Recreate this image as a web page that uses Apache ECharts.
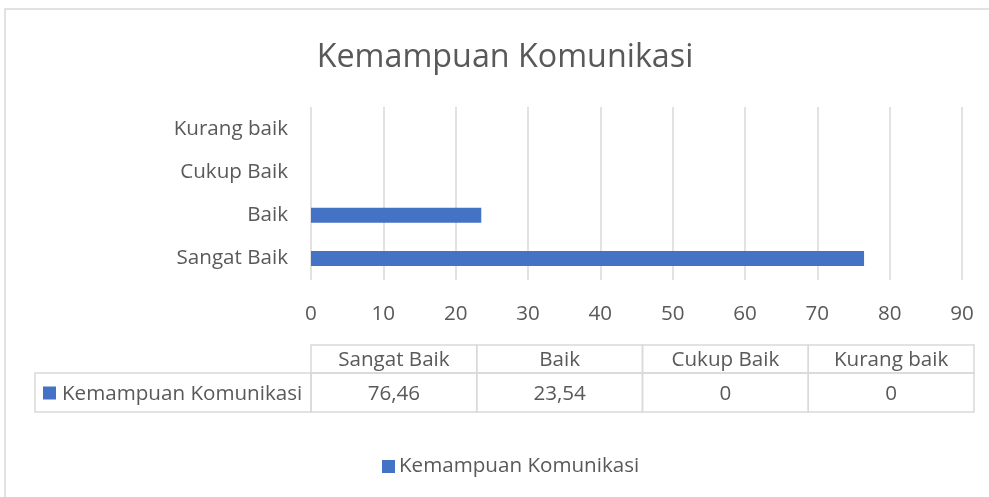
<!DOCTYPE html>
<html>
<head>
<meta charset="utf-8">
<script src="https://cdn.jsdelivr.net/npm/echarts@6/dist/echarts.min.js"></script>
<style>
html,body{margin:0;padding:0;background:#fff;}
#c{width:989px;height:497px;}
</style>
</head>
<body>
<div id="c"></div>
<script>
var chartTitle = 'Kemampuan Komunikasi';
var seriesName = 'Kemampuan Komunikasi';
var categories = ['Sangat Baik', 'Baik', 'Cukup Baik', 'Kurang baik'];
var values = [76.46, 23.54, 0, 0];
var xTicks = [0, 10, 20, 30, 40, 50, 60, 70, 80, 90];

var FONT = '"Open Sans", sans-serif';
var FS = 20.6;
var TXT = '#595959';
var BORDER = '#d9d9d9';
var BAR = '#4472C4';

var chart = echarts.init(document.getElementById('c'));

// data table layout
var tblLeft = 311, tblRight = 974, labelLeft = 35;
var hdrTop = 345, hdrBot = 373, rowBot = 412;
var colW = (tblRight - tblLeft) / categories.length;
var cellFont = FS + 'px "Open Sans", sans-serif';

var graphics = [];
// outer chart border
graphics.push({type:'rect', shape:{x:5, y:9, width:1000, height:500}, style:{fill:'none', stroke:BORDER, lineWidth:1.5}, silent:true});
// title
graphics.push({type:'text', x:505, y:57.5, style:{text:chartTitle, font:'32.3px "Open Sans", sans-serif', fill:TXT, align:'center', verticalAlign:'middle'}});
// header + value cells
categories.forEach(function(c, i){
  var x = tblLeft + i * colW;
  graphics.push({type:'rect', shape:{x:x, y:hdrTop, width:colW, height:hdrBot-hdrTop}, style:{fill:'none', stroke:BORDER, lineWidth:1.5}, silent:true});
  graphics.push({type:'text', x:x + colW/2, y:(hdrTop+hdrBot)/2 + 1.5, style:{text:c, font:cellFont, fill:TXT, align:'center', verticalAlign:'middle'}});
  graphics.push({type:'rect', shape:{x:x, y:hdrBot, width:colW, height:rowBot-hdrBot}, style:{fill:'none', stroke:BORDER, lineWidth:1.5}, silent:true});
  graphics.push({type:'text', x:x + colW/2, y:(hdrBot+rowBot)/2 + 1.5, style:{text:String(values[i]).replace('.', ','), font:cellFont, fill:TXT, align:'center', verticalAlign:'middle'}});
});
// row label cell
graphics.push({type:'rect', shape:{x:labelLeft, y:hdrBot, width:tblLeft-labelLeft, height:rowBot-hdrBot}, style:{fill:'none', stroke:BORDER, lineWidth:1.5}, silent:true});
graphics.push({type:'rect', shape:{x:43, y:(hdrBot+rowBot)/2-6, width:13, height:13}, style:{fill:BAR}, silent:true});
graphics.push({type:'text', x:62, y:(hdrBot+rowBot)/2 + 1.5, style:{text:seriesName, font:cellFont, fill:TXT, align:'left', verticalAlign:'middle'}});

chart.setOption({
  backgroundColor:'#fff',
  animation:false,
  textStyle:{fontFamily:FONT},
  grid:{left:311, right:27, top:107, bottom:217, containLabel:false},
  xAxis:{
    type:'value', min:0, max:90, interval:10,
    axisLine:{show:false}, axisTick:{show:false},
    splitLine:{show:true, lineStyle:{color:BORDER, width:1.5}},
    axisLabel:{color:TXT, fontSize:FS, fontFamily:FONT, margin:24,
      formatter:function(v){ return xTicks.indexOf(v) >= 0 ? String(v) : ''; }}
  },
  yAxis:{
    type:'category', data:categories,
    axisLine:{show:false}, axisTick:{show:false},
    axisLabel:{color:TXT, fontSize:FS, fontFamily:FONT, margin:23}
  },
  legend:{
    data:[seriesName], left:377, top:451, icon:'rect', itemWidth:13, itemHeight:13, itemGap:5,
    textStyle:{color:TXT, fontSize:FS, fontFamily:FONT, padding:[0,0,0,-1]}
  },
  series:[{
    name:seriesName, type:'bar', data:values, barWidth:15,
    itemStyle:{color:BAR}
  }],
  graphic:graphics
});
</script>
</body>
</html>
